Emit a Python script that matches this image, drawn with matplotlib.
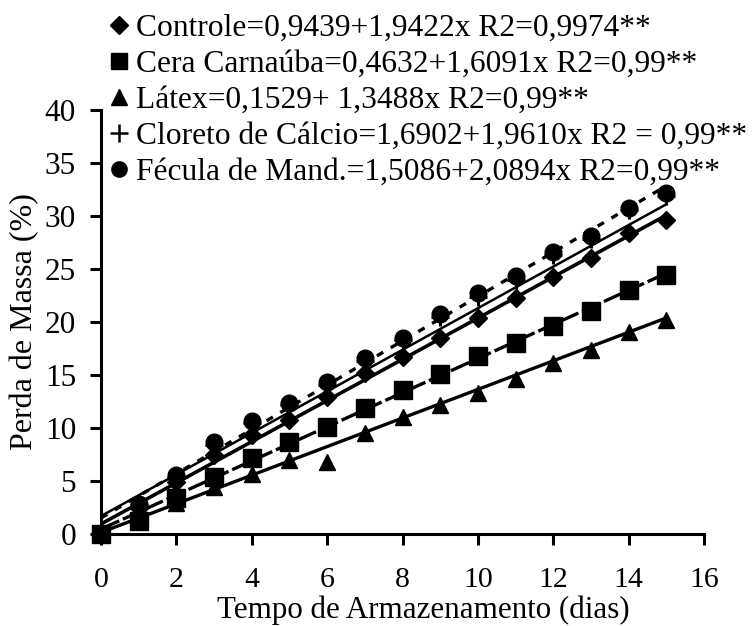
import matplotlib
matplotlib.use("Agg")
import matplotlib.pyplot as plt
from matplotlib.lines import Line2D
import numpy as np

plt.rcParams['font.family'] = ['Liberation Serif', 'DejaVu Serif']

days = [0, 1, 2, 3, 4, 5, 6, 7, 8, 9, 10, 11, 12, 13, 14, 15]
controle = [0.0, 2.5, 4.9, 7.5, 9.3, 10.8, 12.9, 15.2, 16.7, 18.5, 20.4, 22.3, 24.2, 26.0, 28.4, 29.6]
cera = [0.0, 1.2, 3.4, 5.4, 7.2, 8.7, 10.1, 11.9, 13.6, 15.1, 16.8, 18.0, 19.6, 21.0, 23.0, 24.4]
latex = [0.0, 2.0, 2.9, 4.4, 5.7, 7.0, 6.8, 9.5, 11.0, 12.2, 13.3, 14.6, 16.1, 17.4, 19.1, 20.2]
cloreto = [0.0, 2.7, 5.4, 8.4, 10.5, 12.2, 14.1, 16.3, 18.3, 20.5, 22.4, 24.0, 26.3, 27.8, 30.6, 31.9]
fecula = [0.0, 2.8, 5.6, 8.7, 10.7, 12.4, 14.3, 16.6, 18.5, 20.8, 22.7, 24.3, 26.6, 28.1, 30.8, 32.2]

intercepts = [0.9439, 0.4632, 0.1529, 1.6902, 1.5086]
slopes = [1.9422, 1.6091, 1.3488, 1.9610, 2.0894]
labels = ["Controle=0,9439+1,9422x R2=0,9974**",
          "Cera Carnaúba=0,4632+1,6091x R2=0,99**",
          "Látex=0,1529+ 1,3488x R2=0,99**",
          "Cloreto de Cálcio=1,6902+1,9610x R2 = 0,99**",
          "Fécula de Mand.=1,5086+2,0894x R2=0,99**"]

series = [controle, cera, latex, cloreto, fecula]
markers = ['D', 's', '^', 'P', 'o']
msizes = [9, 13, 12, 13, 12]
line_styles = ['-', (0, (6, 1.2)), '-', '-', (0, (2.2, 2.6))]
line_widths = [2.6, 2.4, 2.4, 1.8, 2.4]

YFS = 22.5
XFS = 21.5
LFS = 22.7

fig = plt.figure(figsize=(7.55, 6.26), dpi=100)
ax = fig.add_axes([101/755, 1-534/626, (704-101)/755, (534-110)/626])

xs = np.array([0, 15])
for b0, b1, ls, lw in zip(intercepts, slopes, line_styles, line_widths):
    ax.plot(xs, b0 + b1*xs, color='black', linestyle=ls, linewidth=lw, zorder=2)

order = [3, 4, 0, 1, 2]
for i in order:
    m = markers[i]
    if m == 'P':
        ax.plot(days, series[i], linestyle='none', marker='+', markersize=msizes[i],
                markeredgewidth=2.2, color='black', clip_on=False, zorder=3)
    else:
        ax.plot(days, series[i], linestyle='none', marker=m, markersize=msizes[i],
                color='black', clip_on=False, zorder=3)

ax.set_xlim(0, 16)
ax.set_ylim(0, 40)
ax.set_xticks(range(0, 17, 2))
ax.set_yticks(range(0, 41, 5))
for s in ['top', 'right']:
    ax.spines[s].set_visible(False)
for s in ['left', 'bottom']:
    ax.spines[s].set_linewidth(2.2)
ax.tick_params(axis='both', direction='out', length=8, width=2.2)
ax.tick_params(axis='x', pad=16, labelsize=XFS)
ax.tick_params(axis='y', pad=10, labelsize=YFS)
ax.set_xlabel("Tempo de Armazenamento (dias)", fontsize=22.3, va='baseline')
ax.xaxis.set_label_coords(0.535, -(618-534)/424)
ax.set_ylabel("Perda de Massa (%)", fontsize=23, va='center')
ax.yaxis.set_label_coords(-76/603, 0.50)

handles = []
for m in markers:
    if m == 'P':
        handles.append(Line2D([], [], linestyle='none', marker='+', markersize=13,
                              markeredgewidth=1.8, color='black'))
    else:
        handles.append(Line2D([], [], linestyle='none', marker=m,
                              markersize=9 if m == 'D' else 11, color='black'))
fig.legend(handles, labels, loc='upper left', bbox_to_anchor=(108/755, 1-14/626),
           frameon=False, fontsize=LFS, handlelength=0.7, handletextpad=0.2,
           labelspacing=0.22, borderaxespad=0, borderpad=0)

fig.savefig("out.png", dpi=100)
